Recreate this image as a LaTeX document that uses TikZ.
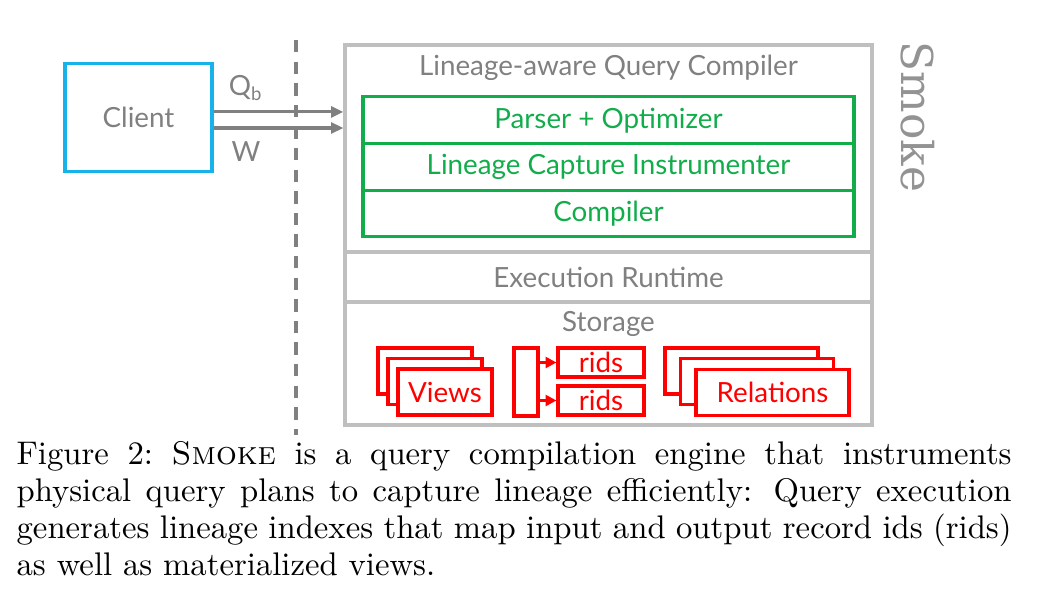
\documentclass[tikz,border=0pt]{standalone}
\usepackage{fontspec}
\newfontfamily\diagfont{Lato}
\newfontfamily\slabfont{DejaVu Serif}
\usetikzlibrary{arrows.meta}
\newcommand\pxu{0.324pt}
\definecolor{boxgray}{HTML}{BFBFBF}
\definecolor{txtgray}{HTML}{808080}
\definecolor{clientblue}{HTML}{17B2EA}
\definecolor{layergreen}{HTML}{12AD4B}
\definecolor{storered}{HTML}{FF0000}
\begin{document}
\begin{tikzpicture}[
    x=\pxu,y=-\pxu,
    every node/.style={font=\diagfont\fontsize{9}{10}\selectfont},
    label/.style={text=txtgray},
    section/.style={draw=boxgray, line width=1pt, inner sep=0pt},
    layer/.style={draw=layergreen, line width=1pt, text=layergreen, inner sep=0pt, minimum width=491*\pxu, minimum height=46.7*\pxu},
    store/.style={draw=storered, fill=white, line width=1pt, text=storered, inner sep=0pt},
    feed/.style={draw=txtgray, line width=1pt, -{Triangle[length=4pt,width=3.5pt]}},
    ptr/.style={draw=storered, line width=1pt, -{Triangle[length=3.5pt,width=3.5pt]}}
]
    \useasboundingbox (0,0) rectangle (1040,608);

    % client and the boundary
    \node[draw=clientblue, line width=1pt, text=txtgray, minimum width=147*\pxu, minimum height=108*\pxu] (client) at (138.5,117.5) {Client};
    \draw[txtgray, line width=1pt, dash pattern=on 4pt off 3pt] (296,40) -- (296,435);

    % engine layers
    \node[section, minimum width=527*\pxu, minimum height=207*\pxu] (qc) at (608.5,148.5) {};
    \node[section, minimum width=527*\pxu, minimum height=50*\pxu] (rt) at (608.5,277) {};
    \node[section, minimum width=527*\pxu, minimum height=123*\pxu] (st) at (608.5,363.5) {};
    \node[label] (qctitle) at (608.5,68) {Lineage-aware Query Compiler};
    \node[label] (rttitle) at (608.5,277) {Execution Runtime};
    \node[label] (sttitle) at (608.5,324) {Storage};

    \foreach \y/\lab/\nm in {120.3/Parser + Optimizer/opt,167/Lineage Capture Instrumenter/ins,213.6/Compiler/cmp} {
        \node[layer] (\nm) at (608.5,\y) {\lab};
    }

    % requests from the client
    \draw[feed] ([yshift=1.8pt]client.east) -- ([yshift=1.8pt]client.east -| qc.west);
    \draw[feed] ([yshift=-3.4pt]client.east) -- ([yshift=-3.4pt]client.east -| qc.west);
    \node[label] (qb) at (246,88) {Q\textsubscript{b}};
    \node[label] (w) at (246,152) {W};

    % storage contents
    \foreach \dx/\i in {0/1,10/2,20/3} {
        \node[store, minimum width=94*\pxu, minimum height=46*\pxu] (view\i) at (425+\dx,371+\dx*1.05) {};
    }
    \node[text=storered] at (view3) {Views};
    \foreach \dx/\i in {0/1,15.5/2,31/3} {
        \node[store, minimum width=153*\pxu, minimum height=46*\pxu] (rel\i) at (741.5+\dx,371+\dx*0.68) {};
    }
    \node[text=storered] at (rel3) {Relations};

    \node[store, minimum width=24*\pxu, minimum height=68*\pxu] (idx) at (526,382) {};
    \node[store, minimum width=86*\pxu, minimum height=29*\pxu] (rid1) at (601,362.5) {rids};
    \node[store, minimum width=86*\pxu, minimum height=29*\pxu] (rid2) at (601,400.5) {rids};
    \draw[ptr] (idx.east |- rid1.west) -- (rid1.west);
    \draw[ptr] (idx.east |- rid2.west) -- (rid2.west);

    \node[text=txtgray!85, font=\slabfont\fontsize{14.2}{15}\selectfont, rotate=-90] (smoke) at (918,117) {Smoke};

    % caption
    \node[anchor=north west, inner sep=0pt, text width=995*\pxu, align=justify, font=\rmfamily\fontsize{10.6}{12}\selectfont] (caption) at (16,441) {Figure 2:\ \textsc{Smoke} is a query compilation engine that instruments\linebreak physical query plans to capture lineage efficiently: Query execution\linebreak generates lineage indexes that map input and output record ids (rids)\linebreak as well as materialized views.};
\end{tikzpicture}
\end{document}
